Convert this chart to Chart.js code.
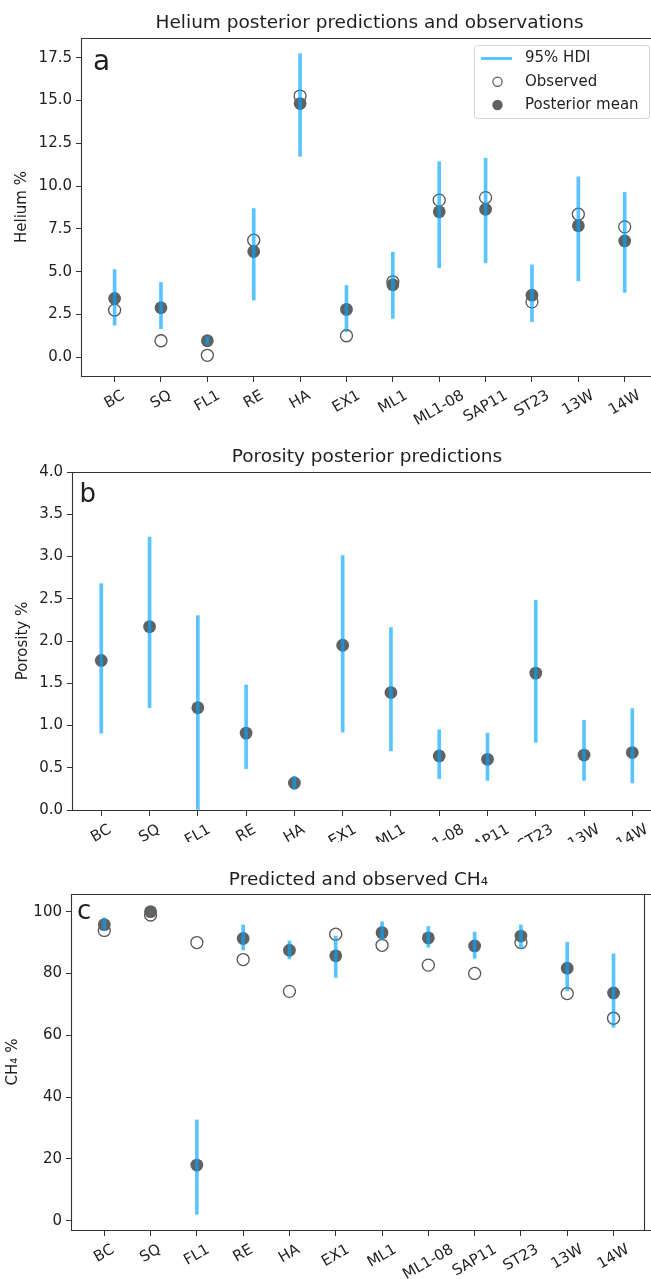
<!DOCTYPE html>
<html><head><meta charset="utf-8">
<script src="https://cdn.jsdelivr.net/npm/chart.js@4.4.0/dist/chart.umd.min.js"></script>
<style>
html,body{margin:0;padding:0;background:#fff;}
body{width:651px;height:1279px;position:relative;overflow:hidden;}
canvas{position:absolute;left:0;}
</style></head><body>
<canvas id="ca" width="651" height="430" style="top:0px;width:651px;height:430px"></canvas>
<canvas id="cb" width="651" height="412" style="top:430px;width:651px;height:412px"></canvas>
<canvas id="cc" width="651" height="437" style="top:842px;width:651px;height:437px"></canvas>
<script>
// ---- data ----
const categories = ['BC','SQ','FL1','RE','HA','EX1','ML1','ML1-08','SAP11','ST23','13W','14W'];

const heObserved = [2.76, 0.97, 0.12, 6.84, 15.26, 1.26, 4.41, 9.18, 9.33, 3.24, 8.36, 7.62];
const heMean     = [3.44, 2.90, 0.97, 6.18, 14.82, 2.80, 4.24, 8.50, 8.65, 3.63, 7.68, 6.80];
const heLow      = [1.88, 1.67, 0.75, 3.34, 11.74, 1.49, 2.27, 5.23, 5.52, 2.08, 4.47, 3.79];
const heHigh     = [5.13, 4.37, 1.20, 8.69, 17.73, 4.20, 6.14, 11.43, 11.63, 5.40, 10.54, 9.63];
const heTicks    = [0, 2.5, 5, 7.5, 10, 12.5, 15, 17.5];

const poMean = [1.77, 2.17, 1.21, 0.91, 0.32, 1.95, 1.39, 0.64, 0.60, 1.62, 0.65, 0.68];
const poLow  = [0.91, 1.21, 0.00, 0.49, 0.24, 0.92, 0.70, 0.37, 0.35, 0.80, 0.35, 0.32];
const poHigh = [2.68, 3.23, 2.30, 1.48, 0.40, 3.01, 2.16, 0.95, 0.91, 2.48, 1.06, 1.20];
const poTicks = [0, 0.5, 1, 1.5, 2, 2.5, 3, 3.5, 4];

const chObserved = [93.9, 98.9, 90.0, 84.5, 74.2, 92.7, 89.1, 82.7, 80.0, 90.0, 73.5, 65.5];
const chMean     = [95.8, 100.0, 18.0, 91.3, 87.5, 85.7, 93.2, 91.5, 88.9, 92.1, 81.7, 73.7];
const chLow      = [93.9, 99.8, 2.1, 87.6, 84.7, 78.7, 90.8, 88.5, 84.9, 88.1, 74.4, 62.6];
const chHigh     = [98.0, 100.0, 32.6, 95.7, 90.5, 92.1, 96.7, 95.2, 93.4, 95.7, 90.1, 86.3];
const chTicks    = [0, 20, 40, 60, 80, 100];

// ---- styles ----
const FONT = '"DejaVu Sans", "Liberation Sans", sans-serif';
const TEXT = '#1f1f1f';
const AXIS = '#333333';
const HDI = 'rgba(0,165,255,0.65)';
const MEANC = '#616161';
const OBSC = '#555555';

Chart.defaults.font.family = FONT;
Chart.defaults.font.size = 15;
Chart.defaults.color = TEXT;

function pts(arr){ return categories.map((c,i)=>({x:i, y:arr[i]})); }
function rng(lo,hi){ return categories.map((c,i)=>({x:i, y:[lo[i],hi[i]]})); }

function panelPlugin(p){
  return {
    id:'panel_'+p.key,
    beforeDraw(chart){
      const c=chart.ctx; c.save(); c.fillStyle='#fff'; c.fillRect(0,0,chart.width,chart.height); c.restore();
    },
    afterDraw(chart){
      const ctx=chart.ctx, a=chart.chartArea, xs=chart.scales.x;
      ctx.save();
      // frame
      ctx.strokeStyle=AXIS; ctx.lineWidth=1.1;
      ctx.beginPath();
      const L=Math.round(a.left)-0.5, T=Math.round(a.top)+0.5, B=Math.round(a.bottom)+0.5, R=Math.round(a.right)-0.5;
      ctx.moveTo(chart.width+2,T); ctx.lineTo(L,T); ctx.lineTo(L,B); ctx.lineTo(chart.width+2,B);
      ctx.stroke();
      if (a.right < chart.width-2){
        ctx.beginPath(); ctx.moveTo(R,T); ctx.lineTo(R,B); ctx.stroke();
      }
      // x tick labels, rotated 30deg about their centre (matplotlib style)
      ctx.fillStyle=TEXT;
      ctx.font='15px '+FONT;
      categories.forEach((lab,i)=>{
        const px=xs.getPixelForValue(i);
        const w=ctx.measureText(lab).width, h=17.5;
        const cy=a.bottom+11+(w*0.5+h*0.866)/2;
        ctx.save(); ctx.translate(px,cy); ctx.rotate(-Math.PI/6);
        ctx.textAlign='center'; ctx.textBaseline='middle';
        ctx.fillText(lab,0,0); ctx.restore();
      });
      // title
      ctx.font=p.titleSize+'px '+FONT;
      ctx.textAlign='center'; ctx.textBaseline='alphabetic';
      const cx=(a.left+xs.getPixelForValue(p.fullMax))/2;
      ctx.fillText(p.title,cx,p.titleBase);
      // y title
      ctx.font='15px '+FONT;
      ctx.save(); ctx.translate(p.yTitleX,(a.top+a.bottom)/2); ctx.rotate(-Math.PI/2);
      ctx.textAlign='center'; ctx.textBaseline='middle'; ctx.fillText(p.yTitle,0,0); ctx.restore();
      // panel letter
      ctx.font=p.letterSize+'px '+FONT;
      ctx.textAlign='left'; ctx.textBaseline='alphabetic';
      ctx.fillText(p.letter,p.letterX,p.letterBase);
      // legend
      if (p.legend){
        const bx=474.5, by=45.5, bw=175, bh=73;
        ctx.beginPath();
        if (ctx.roundRect) ctx.roundRect(bx,by,bw,bh,3); else ctx.rect(bx,by,bw,bh);
        ctx.fillStyle='rgba(255,255,255,0.8)'; ctx.fill();
        ctx.strokeStyle='#d4d4d4'; ctx.lineWidth=1; ctx.stroke();
        ctx.strokeStyle=HDI; ctx.lineWidth=3;
        ctx.beginPath(); ctx.moveTo(481,58.5); ctx.lineTo(512,58.5); ctx.stroke();
        ctx.strokeStyle=OBSC; ctx.lineWidth=1.2;
        ctx.beginPath(); ctx.arc(497.5,81.7,4.6,0,Math.PI*2); ctx.stroke();
        ctx.fillStyle=MEANC;
        ctx.beginPath(); ctx.arc(497.5,105,5.2,0,Math.PI*2); ctx.fill();
        ctx.fillStyle=TEXT; ctx.font='15px '+FONT; ctx.textBaseline='middle';
        ctx.fillText('95% HDI',525,58.5);
        ctx.fillText('Observed',525,81.7);
        ctx.fillText('Posterior mean',525,105);
      }
      ctx.restore();
    }
  };
}

function makeChart(id, p, datasets){
  return new Chart(document.getElementById(id), {
    type:'scatter',
    data:{datasets},
    options:{
      responsive:false, animation:false, devicePixelRatio:1, events:[],
      layout:{autoPadding:false, padding:{top:p.top, right:p.right, left:0, bottom:0}},
      plugins:{legend:{display:false}, title:{display:false}, tooltip:{enabled:false}},
      scales:{
        x:{type:'linear', min:p.xMin, max:p.xMax, offset:false,
          afterBuildTicks:s=>{ s.ticks=categories.map((c,i)=>({value:i})); },
          afterFit:s=>{ s.height=p.xH; s.paddingLeft=0; s.paddingRight=0; },
          ticks:{display:false},
          grid:{offset:false, drawOnChartArea:false, drawTicks:true, tickLength:6, color:AXIS, lineWidth:1},
          border:{display:false}},
        y:{type:'linear', min:p.yMin, max:p.yMax, offset:false,
          afterBuildTicks:s=>{ s.ticks=p.yTicks.map(v=>({value:v})); },
          afterFit:s=>{ s.width=p.left; s.paddingTop=0; s.paddingBottom=0; },
          ticks:{callback:v=>p.fmt(v), padding:4, color:TEXT, font:{size:15, family:FONT}},
          grid:{offset:false, drawOnChartArea:false, drawTicks:true, tickLength:6, color:AXIS, lineWidth:1},
          border:{display:false}}
      }
    },
    plugins:[panelPlugin(p)]
  });
}

function sets(obs, mean, lo, hi){
  const ds=[];
  ds.push({type:'bar', label:'95% HDI', data:rng(lo,hi), backgroundColor:HDI, borderWidth:0,
           barThickness:3, grouped:false, order:0});
  if (obs) ds.push({type:'scatter', label:'Observed', data:pts(obs), pointRadius:6, pointHoverRadius:6,
           backgroundColor:'rgba(0,0,0,0)', borderColor:OBSC, borderWidth:1.3, order:2});
  ds.push({type:'scatter', label:'Posterior mean', data:pts(mean), pointRadius:6.4, pointHoverRadius:6.4,
           backgroundColor:MEANC, borderWidth:0, order:1});
  return ds;
}

makeChart('ca', {key:'a', top:38, right:0, left:82, xH:430-376, xMin:-0.703, xMax:11.567, fullMax:11.703,
  yMin:-1.09, yMax:18.65, yTicks:heTicks, fmt:v=>v.toFixed(1),
  title:'Helium posterior predictions and observations', titleSize:18.5, titleBase:28.3,
  yTitle:'Helium %', yTitleX:21.7, letter:'a', letterSize:28, letterX:93, letterBase:70, legend:true},
  sets(heObserved, heMean, heLow, heHigh));

makeChart('cb', {key:'b', top:42, right:0, left:73, xH:412-380, xMin:-0.586, xMax:11.387, fullMax:11.59,
  yMin:0, yMax:4, yTicks:poTicks, fmt:v=>v.toFixed(1),
  title:'Porosity posterior predictions', titleSize:18.5, titleBase:31.7,
  yTitle:'Porosity %', yTitleX:22.7, letter:'b', letterSize:26, letterX:79.5, letterBase:71.7, legend:false},
  sets(null, poMean, poLow, poHigh));

makeChart('cc', {key:'c', top:52, right:6, left:72, xH:437-388, xMin:-0.697, xMax:11.68, fullMax:11.68,
  yMin:-3.0, yMax:105.7, yTicks:chTicks, fmt:v=>String(Math.round(v)),
  title:'Predicted and observed CH\u2084', titleSize:18.5, titleBase:43,
  yTitle:'CH\u2084 %', yTitleX:12.8, letter:'c', letterSize:26, letterX:77, letterBase:77, legend:false},
  sets(chObserved, chMean, chLow, chHigh));
</script>
</body></html>
